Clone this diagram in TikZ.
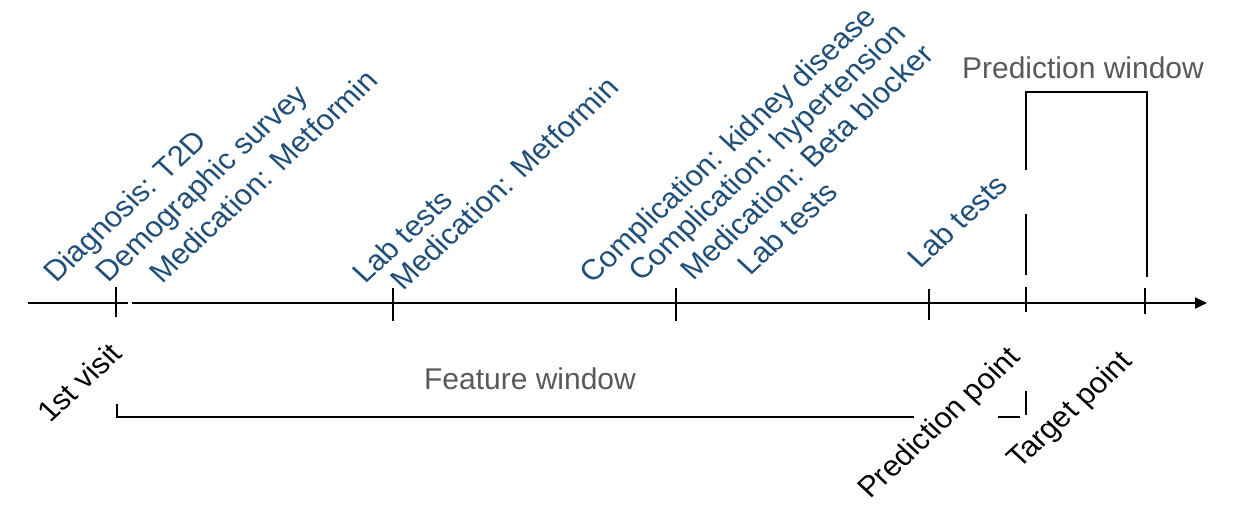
\documentclass[tikz,border=0pt]{standalone}
\usepackage{fontspec}
\setmainfont{Liberation Sans}
\usetikzlibrary{arrows.meta}
\definecolor{lblblue}{RGB}{31,78,121}
\definecolor{lblgray}{RGB}{89,89,89}
\begin{document}
\begin{tikzpicture}[x=0.5pt,y=-0.5pt,
  ln/.style={line width=1.15pt, draw=black},
  evt/.style={yscale=0.93, rotate=45, anchor=base west, inner sep=0pt, text=lblblue, font=\fontsize{15.5}{18}\selectfont},
  ptlab/.style={yscale=0.93, rotate=45, anchor=base west, inner sep=0pt, text=black, font=\fontsize{15.5}{18}\selectfont},
  win/.style={anchor=base, inner sep=0pt, text=lblgray, font=\fontsize{15}{18}\selectfont}]
\useasboundingbox (0,0) rectangle (1238,516);
% axis
\coordinate (ax0) at (28,303);
\coordinate (axgl) at (128,303);
\coordinate (axgr) at (132,303);
\coordinate (axend) at (1207,303);
\draw[ln] (ax0) -- (axgl);
\draw[ln,-{Triangle[length=6pt,width=5.5pt]}] (axgr) -- (axend);
% ticks
\foreach \x/\a/\b in {116/287/317, 393/288/321, 676/288/321, 929/289/320, 1026/287/312, 1145/288/314}
  \draw[ln] (\x,\a) -- (\x,\b);
% prediction window bracket
\coordinate (pwa) at (1026,170);
\coordinate (pwb) at (1026,92);
\coordinate (pwc) at (1147,92);
\coordinate (pwd) at (1147,277);
\coordinate (pwe) at (1026,214);
\coordinate (pwf) at (1026,275);
\draw[ln] (pwa) -- (pwb) -- (pwc) -- (pwd);
\draw[ln] (pwe) -- (pwf);
% feature window bracket
\coordinate (fwa) at (117,404);
\coordinate (fwb) at (117,417);
\coordinate (fwc) at (914,417);
\coordinate (fwd) at (998,417);
\coordinate (fwe) at (1020,417);
\coordinate (fwf) at (1026,415);
\coordinate (fwg) at (1026,391);
\draw[ln] (fwa) -- (fwb) -- (fwc);
\draw[ln] (fwd) -- (fwe);
\draw[ln] (fwf) -- (fwg);
% window labels
\node[win] (pwlab) at (1083,78) {Prediction window};
\node[win] (fwlab) at (530,389) {Feature window};
% event labels
\node[evt] (e1) at (56,284) {Diagnosis: T2D};
\node[evt] (e2) at (108,284) {Demographic survey};
\node[evt] (e3) at (162,285) {Medication: Metformin};
\node[evt] (e4) at (365,285) {Lab tests};
\node[evt] (e5) at (403,292) {Medication: Metformin};
\node[evt] (e6) at (592,285) {Complication: kidney disease};
\node[evt] (e7) at (641,283) {Complication: hypertension};
\node[evt] (e8) at (693,282) {Medication: Beta blocker};
\node[evt] (e9) at (750,277) {Lab tests};
\node[evt] (e10) at (920,270) {Lab tests};
% time point labels
\node[ptlab] (m1) at (50,424) {1st visit};
\node[ptlab] (m2) at (870,500) {Prediction point};
\node[ptlab] (m3) at (1019,470) {Target point};
\end{tikzpicture}
\end{document}
